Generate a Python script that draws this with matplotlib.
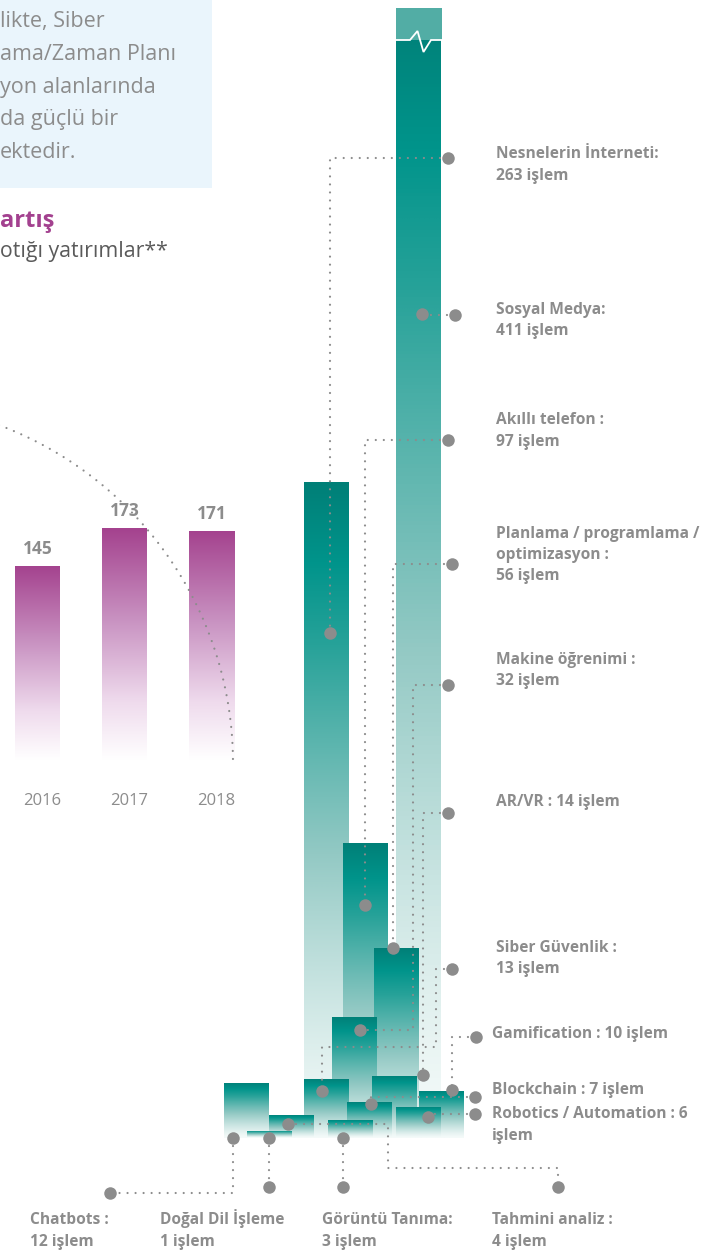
import numpy as np
import matplotlib
matplotlib.use('Agg')
import matplotlib.pyplot as plt
from matplotlib.colors import LinearSegmentedColormap
from matplotlib.patches import Rectangle
from matplotlib.transforms import ScaledTranslation

# ---------------- data ----------------
years = ['2016', '2017', '2018']
investments = [145, 173, 171]

categories = ['Nesnelerin İnterneti', 'Sosyal Medya', 'Akıllı telefon',
              'Planlama / programlama / optimizasyon', 'Makine öğrenimi', 'AR/VR',
              'Siber Güvenlik', 'Gamification', 'Blockchain', 'Robotics / Automation',
              'Chatbots', 'Doğal Dil İşleme', 'Görüntü Tanıma', 'Tahmini analiz']
deals = [263, 411, 97, 56, 32, 14, 13, 10, 7, 6, 12, 1, 3, 4]
label_heads = ['Nesnelerin İnterneti:', 'Sosyal Medya:', 'Akıllı telefon :',
               'Planlama / programlama /\noptimizasyon :', 'Makine öğrenimi :', 'AR/VR :',
               'Siber Güvenlik :', 'Gamification :', 'Blockchain :', 'Robotics / Automation :',
               'Chatbots :', 'Doğal Dil İşleme', 'Görüntü Tanıma:', 'Tahmini analiz :']
label_forms = ['{h}\n{v} işlem'] * 5 + ['{h} {v} işlem', '{h}\n{v} işlem', '{h} {v} işlem',
               '{h} {v} işlem', '{h} {v}\nişlem'] + ['{h}\n{v} işlem'] * 4
broken = [False, True] + [False] * 12

intro_lines = ['likte, Siber', 'ama/Zaman Planı', 'yon alanlarında', 'da güçlü bir', 'ektedir.']
title_text = 'artış'
subtitle_text = 'otığı yatırımlar**'

# ---------------- layout (pixels) ----------------
W, H = 716, 1255
bar_left = [304, 396, 343, 374, 332, 372, 304, 419, 347, 396, 224, 247, 328, 269]
bar_w = 45.5
draw_order = [1, 0, 2, 3, 4, 6, 5, 7, 8, 9, 12, 10, 13, 11]
anchor_dx = [26, 26, 22, 19, 28, 51, 18, 33, 24, 32, 9, 22, 15, 19]
anchor_frac = [0.77, 0.729, 0.79, 1.0, 0.89, 1.0, 0.79, 1.0, 0.95, 0.67, 0.0, 0.0, 0.0, 0.6]
label_dot = [(448, 158), (455, 315), (448, 440), (452, 564), (448, 685), (448, 813),
             (452, 969), (476, 1037), (475, 1097), (475, 1114),
             (110, 1193), (269, 1187), (343, 1187), (558, 1187)]
HV = [('d', 'd'), ('a', 'd'), ('a', 'a')]
VH = [('a', 'a'), ('a', 'd'), ('d', 'd')]
routes = [HV, HV, HV, HV,
          [('d', 'd'), (413, 'd'), (413, 'a'), ('a', 'a')],
          HV,
          [('d', 'd'), (436, 'd'), (436, 1047), ('a', 1047), ('a', 'a')],
          HV, HV, HV,
          VH, VH, VH,
          [('a', 'a'), (388, 'a'), (388, 1168), (558, 1168), ('d', 'd')]]
label_pos = [(496, 153), (496, 308), (496, 419), (496, 532), (496, 658), (496, 801),
             (496, 946), (492, 1033), (492, 1089), (492, 1113),
             (30, 1219), (160, 1216), (322, 1219), (492, 1219)]

GRAY = '#8c8c8c'
FONT = ['Open Sans', 'DejaVu Sans']
plt.rcParams['font.family'] = FONT

fig = plt.figure(figsize=(W / 100, H / 100), dpi=100)

# ---------------- teal chart ----------------
base_px, top_px = 1138, 8
ax = fig.add_axes([0, 1 - base_px / H, 1, (base_px - top_px) / H])
ax.set_yscale('function', functions=(lambda v: np.sign(v) * np.abs(v) ** 0.8,
                                     lambda v: np.sign(v) * np.abs(v) ** 1.25))
ax.set_xlim(0, W)
ymax = 519
ax.set_ylim(0, ymax)
ax.set_autoscale_on(False)
ax.axis('off')

teal = LinearSegmentedColormap.from_list('teal', [(0, '#f4faf9'), (0.35, '#93c9c4'), (0.7, '#27a299'),
                                                   (0.85, '#00948b'), (1, '#007f77')])
grad = np.linspace(0, 1, 256).reshape(-1, 1)
for z, i in enumerate(draw_order):
    top = ymax if broken[i] else deals[i]
    p = ax.bar(bar_left[i], top, width=bar_w, align='edge', color='none', zorder=2 + z)[0]
    im = ax.imshow(grad, cmap=teal, extent=(bar_left[i], bar_left[i] + bar_w, 0, top), origin='lower',
                   aspect='auto', zorder=2 + z, interpolation='bilinear')
    im.set_clip_path(p)
    if broken[i]:
        bx = ax.get_xaxis_transform()
        brk = (base_px - 40) / (base_px - top_px)
        ax.add_patch(Rectangle((bar_left[i], brk), bar_w, 1 - brk, transform=bx,
                               facecolor='#52ada5', edgecolor='none', zorder=2 + z + 0.1))
        zx = [0, 14, 21.5, 27.5, 35, bar_w]
        zy = [40, 40, 31, 52, 40, 40]
        ax.plot([bar_left[i] + v for v in zx], [(base_px - v) / (base_px - top_px) for v in zy],
                transform=bx, color='white', lw=1.3, zorder=2 + z + 0.2, solid_joinstyle='miter')

# ---------------- purple chart ----------------
pw = 87.0
axp = fig.add_axes([0, 1 - 760 / H, 250 / W, 460 / H])
axp.set_frame_on(False)
axp.set_yticks([])
axp.set_xticks(range(len(years)), years)
axp.tick_params(axis='x', length=0, pad=24, labelsize=12, labelcolor=GRAY)
for lbl in axp.get_xticklabels():
    lbl.set_transform(lbl.get_transform() + ScaledTranslation(5 / 100, 0, fig.dpi_scale_trans))
purp = LinearSegmentedColormap.from_list('purp', [(0, '#ffffff'), (0.25, '#efdbed'), (0.6, '#c993c2'),
                                                   (1, '#a4428e')])
bw = 45 / pw
for k, v in enumerate(investments):
    p = axp.bar(k, v, width=bw, color='none')[0]
    im = axp.imshow(grad, cmap=purp, extent=(k - bw / 2, k + bw / 2, 0, v), origin='lower',
                    aspect='auto', interpolation='bilinear')
    im.set_clip_path(p)
    axp.annotate(str(v), (k, v), xytext=(0, 17), textcoords='offset pixels', ha='center', va='center',
                 fontsize=12.5, fontweight='bold', color=GRAY)
axp.set_xlim(-37.5 / pw, (250 - 37.5) / pw)
axp.set_ylim(0, 460 / 1.34)

# ---------------- overlay (annotations) ----------------
ov = fig.add_axes([0, 0, 1, 1], zorder=10)
ov.set_xlim(0, W)
ov.set_ylim(H, 0)
ov.axis('off')
ov.patch.set_alpha(0)

fig.patches.append(Rectangle((0, 1 - 188 / H), 212 / W, 188 / H, transform=fig.transFigure,
                             facecolor='#eaf5fc', edgecolor='none', zorder=0))
for j, t in enumerate(intro_lines):
    ov.text(0, 22 + 32.5 * j, t, fontsize=15.5, color=GRAY, ha='left', va='center')
ov.text(0, 221, title_text, fontsize=17, fontweight='bold', color='#a3418f', ha='left', va='center')
ov.text(0, 252, subtitle_text, fontsize=15.3, color='#5a5a5a', ha='left', va='center')

dot_kw = dict(color='#8c8c8c', lw=1.6, linestyle=(0, (0.01, 3.6)), dash_capstyle='round', zorder=5)

# dotted arc over the purple chart
th = np.linspace(np.radians(72), 0, 200)
ov.plot(-128 + 361 * np.cos(th), 763 - 361 * np.sin(th), **dot_kw)

inv = ov.transData.inverted()
for i in range(len(categories)):
    top = ymax if broken[i] else deals[i]
    x_a = bar_left[i] + anchor_dx[i]
    bpx = inv.transform(ax.transData.transform((x_a, 0)))
    tpx = inv.transform(ax.transData.transform((x_a, top)))
    a = (x_a, bpx[1] + anchor_frac[i] * (tpx[1] - bpx[1]))
    d = label_dot[i]
    pts = []
    for cx, cy in routes[i]:
        px = a[0] if cx == 'a' else d[0] if cx == 'd' else cx
        py = a[1] if cy == 'a' else d[1] if cy == 'd' else cy
        pts.append((px, py))
    pts = np.array(pts)
    ov.plot(pts[:, 0], pts[:, 1], **dot_kw)
    ov.plot([a[0], d[0]], [a[1], d[1]], 'o', ms=9, color=GRAY, mec='none', zorder=6)
    txt = label_forms[i].format(h=label_heads[i], v=deals[i])
    lx, ly = label_pos[i]
    ov.text(lx, ly - 6.5, txt, fontsize=11.2, fontweight='bold', color=GRAY, ha='left', va='top',
            linespacing=1.45)

fig.savefig('out.png', dpi=100)
